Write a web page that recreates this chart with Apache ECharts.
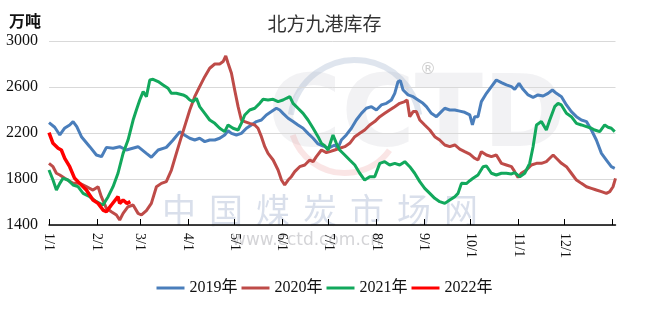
<!DOCTYPE html>
<html><head><meta charset="utf-8">
<script src="https://cdn.jsdelivr.net/npm/echarts@6/dist/echarts.min.js"></script>
<style>html,body{margin:0;padding:0;background:#fff}#c{width:649px;height:311px}</style>
</head><body><div id="c"></div>
<script>
// day-of-year (0 = 1/1) and stock values (万吨)
const monthTickDays = [0,31,59,90,120,151,181,212,243,273,304,334,365];
const monthLabelDays = [0,31,59,90,120,151,181,212,243,273,304,334];
const monthLabels = ['1/1','2/1','3/1','4/1','5/1','6/1','7/1','8/1','9/1','10/1','11/1','12/1'];
const seriesNames = ['2019年','2020年','2021年','2022年'];

const data2019 = [[0,2290],[3.7,2250],[7,2183],[10,2241],[13.4,2270],[15.6,2299],[18,2255],[21,2168],[26.4,2081],[30.7,2009],[34,1994],[37.2,2075],[41.5,2067],[45.8,2081],[50.1,2052],[57.7,2081],[63.1,2023],[66.3,1989],[70.7,2052],[76,2075],[80.4,2139],[84.7,2210],[88,2180],[91.2,2154],[94.4,2139],[97.6,2154],[100.9,2125],[104.1,2139],[107.4,2139],[110.6,2154],[113.8,2183],[116,2220],[118.2,2197],[121.4,2183],[124.6,2197],[127.9,2241],[131.1,2270],[134.4,2299],[137.6,2313],[140.8,2357],[144.1,2386],[147.3,2415],[149.5,2400],[151.6,2371],[154.9,2328],[158.1,2299],[161.3,2270],[164.6,2241],[167.8,2197],[171.1,2154],[174.3,2105],[177.6,2087],[181,2067],[185.1,2096],[187.2,2067],[189.4,2139],[192.6,2183],[195.9,2241],[199.1,2313],[202.4,2371],[205.6,2415],[208.9,2429],[212.1,2400],[215.3,2444],[218.6,2458],[221.8,2487],[224,2545],[226.1,2647],[227.6,2655],[229.4,2574],[232.6,2531],[235.9,2516],[239.1,2487],[242.3,2458],[244.5,2429],[247.7,2371],[251,2342],[254.2,2386],[256.4,2415],[259.6,2400],[262.9,2400],[266.1,2390],[269.3,2380],[272.6,2357],[274.3,2270],[275.8,2342],[277.9,2342],[280.1,2473],[283.4,2545],[286.6,2603],[289.8,2661],[293.1,2638],[296.3,2618],[299.6,2603],[301.7,2580],[304.5,2632],[307.1,2580],[310.4,2531],[313.6,2510],[316.8,2531],[320.1,2522],[323.3,2545],[326.1,2574],[328.7,2545],[332,2516],[335.2,2444],[338.4,2386],[341.7,2342],[344.9,2313],[348.2,2299],[351.4,2226],[354.6,2139],[357.9,2023],[361.1,1965],[364.3,1907],[366.5,1893]];

const data2020 = [[0,1936],[2.6,1907],[4.8,1850],[7,1835],[10.2,1806],[15.6,1762],[19.9,1762],[24.2,1733],[28.5,1704],[31.8,1733],[33.9,1646],[37.2,1545],[40.4,1516],[43.7,1487],[45.8,1443],[48,1501],[51.2,1559],[54.5,1574],[57.7,1501],[59.9,1487],[63.1,1525],[66.3,1588],[69.6,1733],[72.8,1762],[76,1777],[79.3,1878],[82.5,2023],[85.8,2168],[88.5,2284],[91.2,2400],[94.4,2516],[97.6,2603],[100.9,2690],[104.1,2763],[107.4,2800],[110.6,2800],[112.8,2821],[114.5,2870],[116,2806],[118.2,2719],[120.3,2574],[122.5,2429],[124.6,2313],[126.8,2299],[130,2284],[133.3,2270],[135.4,2241],[137.6,2168],[139.8,2081],[141.9,2023],[145.2,1965],[148.4,1878],[150.6,1791],[152.7,1748],[154.9,1791],[157,1820],[159.2,1864],[162.4,1907],[165.7,1922],[168.9,1965],[171.1,1951],[173.2,1994],[176.5,2052],[179.7,2030],[181.9,2038],[185.1,2052],[188.3,2067],[191.6,2081],[194.8,2110],[198.1,2168],[201.3,2197],[204.5,2226],[207.8,2270],[211,2299],[214.3,2342],[217.5,2371],[220.7,2400],[224,2429],[227.2,2458],[230.5,2473],[232,2487],[233.7,2342],[235.9,2386],[238,2386],[240.2,2313],[243.4,2270],[246.7,2226],[249.9,2168],[253.1,2139],[256.4,2096],[259.6,2081],[262.9,2096],[266.1,2060],[269.3,2038],[272.6,2016],[275.8,1980],[277.9,1965],[280.1,2038],[283.4,2009],[286.6,1994],[289.8,2009],[293.1,1936],[296.3,1922],[299.6,1907],[301.7,1864],[303.9,1814],[306,1850],[309.3,1878],[312.5,1922],[315.8,1936],[319,1936],[322.2,1951],[324.4,1980],[326.6,2009],[328.7,1980],[332,1936],[335.2,1907],[338.4,1850],[341.7,1791],[344.9,1762],[348.2,1733],[351.4,1719],[354.6,1704],[357.9,1690],[361.1,1675],[363.3,1690],[365.4,1733],[367,1806]];

const data2021 = [[0,1878],[2.6,1791],[4.8,1704],[7,1762],[9.1,1806],[12.3,1791],[15.6,1748],[18.8,1733],[22.1,1675],[26.4,1646],[30.7,1603],[35,1574],[38.3,1646],[41.5,1733],[44.7,1850],[48,2023],[51.2,2139],[54.5,2313],[56.6,2400],[58.8,2487],[61,2560],[63.1,2516],[65.3,2661],[67.4,2667],[70.7,2647],[73.9,2618],[77.1,2589],[79.3,2545],[82.5,2545],[86.9,2531],[89,2516],[91.2,2487],[93.3,2473],[95.5,2502],[97.6,2429],[100.9,2371],[104.1,2313],[107.4,2284],[110.6,2241],[113.8,2212],[116,2270],[119.2,2241],[122.5,2226],[124.6,2284],[126.8,2357],[130,2400],[133.3,2415],[136.5,2458],[138.7,2493],[141.9,2487],[145.2,2493],[148.4,2473],[151.6,2487],[153.8,2502],[156,2516],[158.1,2458],[161.3,2415],[164.6,2371],[167.8,2313],[171.1,2241],[174.3,2168],[176.5,2110],[178.6,2090],[180.8,2052],[182.9,2139],[184,2183],[186.2,2110],[188.3,2052],[191.6,2009],[194.8,1965],[198.1,1922],[201.3,1850],[204.5,1791],[207.8,1820],[211,1820],[214.3,1936],[217.5,1951],[220.7,1922],[224,1936],[227.2,1922],[230.5,1951],[233.7,1907],[236.9,1850],[240.2,1777],[243.4,1719],[246.7,1675],[249.9,1632],[253.1,1603],[256.4,1588],[259.6,1617],[262.9,1646],[265,1675],[267.2,1762],[270.4,1760],[272.6,1785],[274.7,1806],[277.9,1835],[281.2,1907],[283.4,1913],[286.6,1850],[289.8,1835],[293.1,1850],[296.3,1850],[299.6,1844],[301.7,1855],[305,1820],[308.2,1850],[311.4,1936],[313.6,2081],[315.8,2270],[319,2299],[322.2,2226],[324.4,2313],[327.6,2429],[329.8,2458],[331.9,2444],[335.2,2371],[338.4,2342],[341.7,2284],[344.9,2270],[348.2,2255],[351.4,2241],[353.5,2226],[356.8,2212],[360,2270],[362.2,2250],[364.3,2241],[366.5,2212]];

const data2022 = [[0,2203],[2.6,2110],[5.9,2067],[8,2052],[10.2,1980],[13.4,1907],[16.6,1806],[19.9,1762],[24.2,1704],[28.5,1617],[31.8,1588],[35,1530],[37.2,1516],[40.4,1574],[44.7,1646],[45.8,1588],[48,1617],[50.5,1588],[52.7,1603]];

const serifFont = "'Liberation Serif','Noto Sans CJK SC',serif";
const wmChars = ['中','国','煤','炭','市','场','网'];

const chart = echarts.init(document.getElementById('c'));
const graphics = wmChars.map((ch, i) => ({
  type: 'text', left: 162 + i * 47, top: 193, z: 0, silent: true,
  style: { text: ch, fontSize: 34, fontFamily: 'Noto Sans CJK SC', fill: 'rgba(170,185,210,0.45)' }
}));
graphics.push(
  { type: 'text', left: 232, top: 232, z: 0, silent: true,
    style: { text: 'www.cctd.com.cn', fontSize: 17, fontFamily: 'DejaVu Sans', fill: 'rgba(170,170,175,0.5)' } },
  { type: 'text', left: 268, top: 70, z: 0, silent: true,
    style: { text: 'CCTD', fontSize: 100, fontWeight: 'bold', fontFamily: 'DejaVu Sans', fill: 'rgba(160,165,175,0.14)' } },
  { type: 'arc', z: 0, silent: true, shape: { cx: 355, cy: 125, r: 65, startAngle: Math.PI * 1.05, endAngle: Math.PI * 1.95 },
    style: { stroke: 'rgba(150,170,200,0.3)', lineWidth: 6, fill: null } },
  { type: 'arc', z: 0, silent: true, shape: { cx: 345, cy: 118, r: 55, startAngle: Math.PI * 0.2, endAngle: Math.PI * 0.9 },
    style: { stroke: 'rgba(235,150,150,0.25)', lineWidth: 6, fill: null } },
  { type: 'text', left: 420, top: 62, z: 0, silent: true,
    style: { text: '®', fontSize: 16, fontFamily: 'DejaVu Sans', fill: 'rgba(160,160,160,0.5)' } }
);

chart.setOption({
  animation: false,
  title: [
    { text: '北方九港库存', left: 'center', top: 9, textStyle: { fontSize: 19, fontWeight: 'normal', color: '#333', fontFamily: 'Noto Sans CJK SC' } },
    { text: '万吨', left: 4, top: 8, textStyle: { fontSize: 16, fontWeight: 'bold', color: '#111', fontFamily: 'Noto Sans CJK SC' } }
  ],
  graphic: graphics,
  grid: { left: 49, top: 41, width: 566.5, height: 184 },
  legend: {
    data: seriesNames, bottom: 10, left: 'center', icon: 'rect', itemWidth: 28, itemHeight: 3, itemGap: 4,
    textStyle: { fontSize: 16, color: '#111', fontFamily: serifFont }
  },
  xAxis: {
    type: 'value', min: 0, max: 367,
    axisLine: { lineStyle: { color: '#000', width: 1.5 } },
    axisTick: { show: true, inside: true, length: 6, customValues: monthTickDays, lineStyle: { color: '#000', width: 1 } },
    axisLabel: { customValues: monthLabelDays, rotate: -90, margin: 8, fontSize: 14, color: '#111', fontFamily: serifFont,
      formatter: v => monthLabels[monthLabelDays.indexOf(v)] || '' },
    splitLine: { show: false }
  },
  yAxis: {
    type: 'value', min: 1400, max: 3000, interval: 400,
    axisLine: { show: false }, axisTick: { show: false },
    axisLabel: { fontSize: 16, color: '#111', margin: 11, fontFamily: serifFont, formatter: v => String(v) },
    splitLine: { lineStyle: { color: '#d9d9d9', width: 1 } }
  },
  series: [
    { name: seriesNames[0], type: 'line', data: data2019, symbol: 'none', lineStyle: { color: '#4a7ebb', width: 3 }, itemStyle: { color: '#4a7ebb' }, z: 2 },
    { name: seriesNames[1], type: 'line', data: data2020, symbol: 'none', lineStyle: { color: '#be4b48', width: 3 }, itemStyle: { color: '#be4b48' }, z: 3 },
    { name: seriesNames[2], type: 'line', data: data2021, symbol: 'none', lineStyle: { color: '#12a85c', width: 3 }, itemStyle: { color: '#12a85c' }, z: 4 },
    { name: seriesNames[3], type: 'line', data: data2022, symbol: 'none', lineStyle: { color: '#ff0000', width: 3.5 }, itemStyle: { color: '#ff0000' }, z: 5 }
  ]
});
</script></body></html>
